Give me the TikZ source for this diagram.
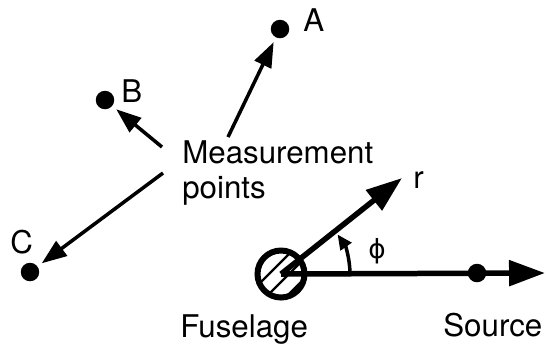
\documentclass[tikz,border=0pt]{standalone}
\usepackage{fontspec}
\setmainfont{TeX Gyre Heros}
\newfontfamily\greekfont{DejaVu Sans}
\usetikzlibrary{arrows.meta,calc}

\begin{document}
\begin{tikzpicture}[x=0.02cm,y=-0.02cm,font=\fontsize{17.8}{19.9}\selectfont,
  dot/.style={circle,fill=black,inner sep=0pt,minimum size=0.37cm},
  lbl/.style={inner sep=0pt,anchor=base west},
  pointer/.style={line width=2pt,-{Triangle[length=0.5cm,width=0.36cm]},shorten >=0.1cm},
  axis/.style={line width=0.11cm,-{Triangle[length=0.72cm,width=0.5cm]}}]
\useasboundingbox (0,0) rectangle (546,343);
\node[dot] (A) at (280,29) {}; \node[lbl] (labA) at (303,31) {A};
\node[dot] (B) at (105,100) {}; \node[lbl] (labB) at (121,102) {B};
\node[dot] (C) at (30,272) {}; \node[lbl] (labC) at (10,253) {C};
\node[inner sep=0pt,anchor=west,align=left] (meas) at (182,173) {Measurement\\points};
\coordinate (mA) at (228,137); \coordinate (mB) at (162,147); \coordinate (mC) at (163,173);
\draw[pointer] (mA) -- (A); \draw[pointer] (mB) -- (B); \draw[pointer] (mC) -- (C);
% fuselage with hatching
\node[circle,draw,line width=0.12cm,minimum size=0.94cm,inner sep=0pt] (fus) at (281,274) {};
\begin{scope}
\clip (fus.center) circle (0.45cm);
\foreach \d in {-16,-6,4,14} \draw[line width=1.3pt] ($(fus.center)+(\d-30,\d+30)$) -- ++(60,-60);
\end{scope}
\coordinate (rtip) at (402,178); \coordinate (xtip) at (545,273);
\draw[axis] (fus.center) -- (rtip); \draw[axis] (fus.center) -- (xtip);
\node[dot] (src) at (477,273) {};
\draw[line width=0.07cm,-{Triangle[length=0.3cm,width=0.26cm]}] (fus.center) ++(0:1.38cm) arc[start angle=0,end angle=35,radius=1.38cm];
\node[lbl] (labr) at (413,188) {r};
\node[inner sep=0pt] (phi) at (377,251) {\greekfont\fontsize{15}{18}\selectfont ϕ};
\node[lbl] (fuslab) at (180,337) {Fuselage};
\node[lbl] (srclab) at (443,336) {Source};
\end{tikzpicture}
\end{document}
